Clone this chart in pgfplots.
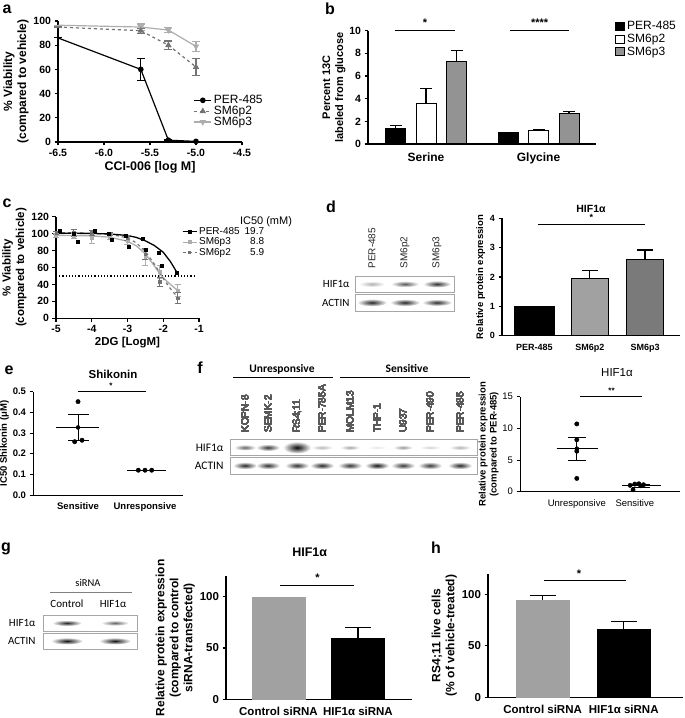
\documentclass[border=0pt]{standalone}
\usepackage{fontspec}
\setmainfont{Liberation Sans}
\newfontfamily\calfont{Carlito}
\usepackage{pgfplots}
\pgfplotsset{compat=1.18}
\definecolor{gdark}{gray}{0.45}
\definecolor{glight}{gray}{0.68}
\definecolor{barA}{gray}{0.63}
\definecolor{barB}{gray}{0.48}
\newcommand{\fs}[2]{\fontsize{#1}{#2}\selectfont}
\pgfplotsset{
  prism/.style={scale only axis, axis x line*=bottom, axis y line*=left,
    axis line style={line width=1.1pt}, tick style={line width=1.1pt, black},
    tick align=outside, major tick length=3.5pt,
    /pgf/number format/assume math mode=true,
    clip=false, anchor=south west},
  errs/.style={error bars/y dir=both, error bars/y explicit, error bars/error mark=|,
    error bars/error bar style={line width=1.1pt}, error bars/error mark options={mark size=4pt, line width=1.1pt}},
  errup/.style={error bars/y dir=plus, error bars/y explicit, error bars/error mark=|,
    error bars/error bar style={line width=1.1pt, draw=black}, error bars/error mark options={mark size=#1, line width=1.1pt, draw=black}},
  errup/.default=6pt,
}
\newcommand{\band}[5]{\shade[inner color=black!#5, outer color=white] (#1,#2) ellipse (#3 and #4);}
\begin{document}
\begin{tikzpicture}
\useasboundingbox (0,0) rectangle (685pt,718pt);

%%%%%%%%%%%%%% a
\begin{axis}[prism, at={(58pt,576pt)}, width=184pt, height=121pt,
  xmin=-6.5, xmax=-4.5, ymin=0, ymax=100,
  xtick={-6.5,-6,-5.5,-5,-4.5}, ytick={0,20,...,100},
  xticklabel style={/pgf/number format/.cd, fixed, fixed zerofill, precision=1},
  ticklabel style={font=\fs{10.5}{12}\bfseries},
  xlabel={CCI-006 [log M]}, xlabel style={font=\fs{12.5}{14}\bfseries, yshift=2pt},
  ylabel={\% Viability\\(compared to vehicle)}, ylabel style={font=\fs{12}{14}\bfseries, align=center, yshift=-2pt},
  legend style={at={(0.72,0.42)}, anchor=north west, draw=none, fill=none, font=\fs{12}{13}, row sep=-3pt},
  legend cell align=left]
\addlegendimage{black, line width=1.2pt, mark=*, mark size=2.2pt}
\addlegendentry{PER-485}
\addlegendimage{gdark, dashed, line width=1.2pt, mark=triangle*, mark size=2.5pt, mark options={solid}}
\addlegendentry{SM6p2}
\addlegendimage{glight, line width=1.2pt, mark=triangle*, mark size=2.5pt, mark options={rotate=180}}
\addlegendentry{SM6p3}
\addplot[glight, line width=1.2pt, mark=triangle*, mark size=2.5pt, mark options={rotate=180}, mark indices={2,3,4}, errs, forget plot]
  coordinates {(-6.5,96.5) +- (0,0) (-5.6,95) +- (0,2.5) (-5.3,92.5) +- (0,2) (-5.0,79) +- (0,4)};
\addplot[gdark, dashed, line width=1.2pt, mark=triangle*, mark size=2.5pt, mark options={solid}, mark indices={2,3,4}, errs, error bars/error bar style={solid, line width=1.1pt}, forget plot]
  coordinates {(-6.5,95) +- (0,0) (-5.6,92) +- (0,2) (-5.3,80) +- (0,3.5) (-5.0,62) +- (0,7)};
\addplot[black, line width=1.2pt, mark=*, mark size=2.2pt, mark indices={2,3,4}, errs, forget plot]
  coordinates {(-6.5,86) +- (0,0) (-5.6,60) +- (0,9) (-5.3,1.5) +- (0,0.5) (-5.0,0.5) +- (0,0)};
\end{axis}

%%%%%%%%%%%%%% b
\begin{axis}[prism, at={(368pt,574pt)}, width=228pt, height=113.3pt,
  ybar=10.5pt, bar width=20pt, xmin=-0.516, xmax=1.511, ymin=0, ymax=10,
  xtick={0,1}, xticklabels={Serine,Glycine}, xtick style={draw=none},
  ytick={0,2,...,10},
  ticklabel style={font=\fs{10.5}{12}\bfseries},
  xticklabel style={font=\fs{12}{13}\bfseries, yshift=-2pt},
  ylabel={Percent 13C\\labeled from glucose}, ylabel style={font=\fs{11}{13}\bfseries, align=center, yshift=-3pt},
  legend style={at={(1.07,1.12)}, anchor=north west, draw=none, fill=none, font=\fs{12}{13}, row sep=-1pt},
  legend cell align=left,
  legend image code/.code={\draw[#1, line width=1pt] (0pt,-4pt) rectangle (9pt,4pt);}]
\addplot[fill=black, draw=black, line width=1pt, errup] coordinates {(0,1.35) +- (0,0.25) (1,1.02) +- (0,0.03)};
\addlegendentry{PER-485}
\addplot[fill=white, draw=black, line width=1pt, errup] coordinates {(0,3.55) +- (0,1.35) (1,1.22) +- (0,0.08)};
\addlegendentry{SM6p2}
\addplot[fill=gray!85, draw=black, line width=1pt, errup] coordinates {(0,7.3) +- (0,0.92) (1,2.72) +- (0,0.12)};
\addlegendentry{SM6p3}
\draw[line width=1.1pt] (axis cs:-0.28,10.05) -- (axis cs:0.26,10.05);
\node[font=\fs{11}{11}\bfseries, anchor=south] at (axis cs:-0.01,10.05) {*};
\draw[line width=1.1pt] (axis cs:0.75,10.05) -- (axis cs:1.27,10.05);
\node[font=\fs{11}{11}\bfseries, anchor=south] at (axis cs:1.01,10.05) {****};
\end{axis}

%%%%%%%%%%%%%% c
\begin{axis}[prism, at={(56pt,399.7pt)}, width=143pt, height=101.6pt,
  xmin=-5, xmax=-1, ymin=0, ymax=120,
  xtick={-5,-4,-3,-2,-1}, ytick={0,20,...,120},
  ticklabel style={font=\fs{10.5}{12}\bfseries},
  xlabel={2DG [LogM]}, xlabel style={font=\fs{11.5}{13}\bfseries, yshift=2pt},
  ylabel={\% Viability\\(compared to vehicle)}, ylabel style={font=\fs{11.5}{13.5}\bfseries, align=center, yshift=-2pt},
  legend style={at={(0.88,0.915)}, anchor=north west, draw=none, fill=none, font=\fs{10}{11}, row sep=-2pt, inner sep=0pt},
  legend image code/.code={\draw[#1] plot coordinates {(0pt,0pt) (7pt,0pt) (14pt,0pt)};},
  legend cell align=left]
\addlegendimage{black, line width=1.1pt, mark=square*, mark size=1.4pt, mark indices={2}}
\addlegendentry{\makebox[45pt][l]{PER-485}\makebox[20pt][r]{19.7}}
\addlegendimage{glight, line width=1.1pt, mark=square*, mark size=1.4pt, mark indices={2}}
\addlegendentry{\makebox[45pt][l]{SM6p3}\makebox[20pt][r]{8.8}}
\addlegendimage{gdark, dashed, line width=1.1pt, mark=square*, mark size=1.2pt, mark options={solid}, mark indices={2}}
\addlegendentry{\makebox[45pt][l]{SM6p2}\makebox[20pt][r]{5.9}}
\addplot[black, dotted, line width=1.2pt, forget plot] coordinates {(-5,50) (-1.1,50)};
% fitted curves
\addplot[glight, line width=1.3pt, forget plot] coordinates {(-5,98) (-4.5,97.8) (-4,97.3) (-3.5,95.8) (-3,91) (-2.75,85.5) (-2.5,76) (-2.25,62) (-2.1,53) (-2,48) (-1.8,40) (-1.6,33)};
\addplot[gdark, dashed, line width=1.2pt, forget plot] coordinates {(-5,101) (-4.5,100.9) (-4,100.5) (-3.5,99.3) (-3,95) (-2.75,89) (-2.5,79) (-2.25,64) (-2,47) (-1.8,35) (-1.6,25)};
\addplot[black, line width=1.3pt, forget plot] coordinates {(-5,100.5) (-4.5,100.4) (-4,100.2) (-3.5,99.6) (-3,97.8) (-2.75,95.5) (-2.5,91.5) (-2.25,86) (-2,78) (-1.8,67) (-1.6,53)};
% data points
\addplot[only marks, glight, mark=square*, mark size=1.3pt, forget plot, error bars/.cd, y dir=both, y explicit, error mark=|, error bar style={line width=0.8pt}, error mark options={mark size=3pt, line width=0.8pt}]
  coordinates {(-5,98) +- (0,2) (-4.5,97) +- (0,3) (-4,95) +- (0,6) (-3.5,96) +- (0,3) (-3,91) +- (0,4) (-2.5,72) +- (0,10) (-2.1,55) +- (0,8) (-1.6,33) +- (0,7)};
\addplot[only marks, gdark, mark=square*, mark size=1.2pt, forget plot, error bars/.cd, y dir=both, y explicit, error mark=|, error bar style={line width=0.8pt}, error mark options={mark size=3pt, line width=0.8pt}]
  coordinates {(-5,101) +- (0,2) (-4.5,101) +- (0,4) (-4,101) +- (0,3) (-3.5,100) +- (0,2) (-3,95) +- (0,3) (-2.5,76) +- (0,6) (-2.1,43) +- (0,5) (-1.6,24) +- (0,6)};
\addplot[only marks, black, mark=square*, mark size=1.5pt, forget plot]
  coordinates {(-4.9,104) (-4.5,100) (-4.4,91) (-3.93,103) (-3.52,100) (-3.44,92.5) (-3.05,97) (-2.98,84.6) (-2.57,93.7) (-2.5,81.5) (-2.12,78) (-2.03,62) (-1.61,54)};
\end{axis}

%%%%%%%%%%%%%% d chart
\begin{axis}[prism, at={(502pt,382.3pt)}, width=178pt, height=117.4pt,
  xmin=-0.588, xmax=2.633, ymin=0, ymax=4,
  xtick={0,1,2}, xticklabels={PER-485,SM6p2,SM6p3}, xtick style={draw=none},
  ytick={0,1,...,4},
  ticklabel style={font=\fs{9}{10}\bfseries},
  xticklabel style={yshift=-1pt},
  ylabel={Relative protein expression}, ylabel style={font=\fs{9.5}{11}\bfseries, yshift=-2pt},
  title={HIF1α}, title style={font=\fs{10.5}{11}\bfseries, yshift=-4pt}]
\addplot[ybar, bar width=40pt, bar shift=0pt, fill=black, draw=black] coordinates {(0,1)};
\addplot[ybar, bar width=37pt, bar shift=0pt, fill=barA, draw=black, errup=8pt] coordinates {(1,1.96) +- (0,0.27)};
\addplot[ybar, bar width=37pt, bar shift=0pt, fill=barB, draw=black, errup=8pt] coordinates {(2,2.62) +- (0,0.3)};
\draw[line width=1.1pt] (axis cs:0.06,3.8) -- (axis cs:2.0,3.8);
\node[font=\fs{9}{9}\bfseries, anchor=south] at (axis cs:1.03,3.8) {*};
\end{axis}

%%%%%%%%%%%%%% e
\begin{axis}[prism, at={(33pt,223pt)}, width=150pt, height=103.3pt,
  xmin=-0.672, xmax=1.567, ymin=0, ymax=0.5,
  xtick={0,1}, xticklabels={Sensitive,Unresponsive}, xtick style={draw=none},
  ytick={0,0.1,...,0.5},
  yticklabel style={/pgf/number format/.cd, fixed, fixed zerofill, precision=1},
  ticklabel style={font=\fs{9.5}{10}\bfseries},
  xticklabel style={yshift=-1pt},
  ylabel={IC50 Shikonin (μM)}, ylabel style={font=\fs{9.5}{11}\bfseries, yshift=-3pt},
  axis line style={line width=0.9pt}, tick style={line width=0.9pt}]
\addplot[black, line width=1pt] coordinates {(-0.33,0.327) (0.32,0.327)};
\addplot[black, line width=1pt] coordinates {(0.73,0.12) (1.32,0.12)};
\addplot[only marks, mark=none, error bars/.cd, y dir=both, y explicit, error mark=|, error bar style={line width=1pt, draw=black}, error mark options={mark size=10.5pt, line width=1pt, draw=black}]
  coordinates {(0,0.327) +- (0,0.063)};
\addplot[only marks, black, mark=*, mark size=2.2pt]
  coordinates {(0,0.452) (-0.05,0.258) (0.06,0.265) (0.9,0.12) (1.0,0.12) (1.1,0.12)};
\draw[line width=1pt] (axis cs:0,0.5) -- (axis cs:1.01,0.5);
\node[font=\fs{8}{8}\bfseries, anchor=south] at (axis cs:0.49,0.5) {*};
\end{axis}

%%%%%%%%%%%%%% f chart
\begin{axis}[prism, at={(520pt,226.3pt)}, width=160pt, height=95pt,
  xmin=-0.98, xmax=1.78, ymin=0, ymax=15,
  xtick={0,1}, xticklabels={Unresponsive,Sensitive}, xtick style={draw=none},
  ytick={0,5,10,15},
  ticklabel style={font=\fs{9.5}{10}},
  xticklabel style={yshift=-1pt},
  ylabel={Relative protein expression\\(compared to PER-485)}, ylabel style={font=\fs{9.5}{11}\bfseries, align=center, yshift=-3pt},
  axis line style={line width=0.9pt}, tick style={line width=0.9pt}]
\addplot[black, line width=1pt] coordinates {(-0.35,6.8) (0.36,6.8)};
\addplot[black, line width=1pt] coordinates {(0.78,0.9) (1.45,0.9)};
\addplot[only marks, mark=none, error bars/.cd, y dir=both, y explicit, error mark=|, error bar style={line width=1pt, draw=black}, error mark options={mark size=9pt, line width=1pt, draw=black}]
  coordinates {(0,6.8) +- (0,1.8) (1.1,0.9) +- (0,0.2)};
\addplot[only marks, black, mark=*, mark size=2.2pt]
  coordinates {(0,10.7) (0,8.2) (0,6.4) (0,2.1) (0.92,1.0) (1.0,1.2) (1.07,1.25) (1.15,1.1) (0.97,0.3)};
\draw[line width=1pt] (axis cs:0.05,15) -- (axis cs:1.12,15);
\node[font=\fs{8}{8}\bfseries, anchor=south] at (axis cs:0.6,15) {**};
\end{axis}

%%%%%%%%%%%%%% g chart
\begin{axis}[prism, at={(226pt,18.7pt)}, width=186pt, height=123.1pt,
  xmin=-0.66, xmax=1.68, ymin=0, ymax=120,
  xtick={0,1}, xticklabels={Control siRNA,HIF1α siRNA}, xtick style={draw=none},
  ytick={0,50,100},
  ticklabel style={font=\fs{11.5}{12}\bfseries},
  xticklabel style={yshift=-1pt},
  ylabel={Relative protein expression\\(compared to control\\siRNA-transfected)}, ylabel style={font=\fs{12}{14}\bfseries, align=center, yshift=-2pt},
  title={HIF1α}, title style={font=\fs{12.5}{13}\bfseries, at={(0.45,1)}, yshift=10pt}]
\addplot[ybar, bar width=53pt, bar shift=0pt, fill=barA, draw=barA] coordinates {(0,100)};
\addplot[ybar, bar width=53pt, bar shift=0pt, fill=black, draw=black, errup=13pt] coordinates {(1,59.4) +- (0,10.7)};
\draw[line width=1.1pt] (axis cs:0.02,111) -- (axis cs:0.95,111);
\node[font=\fs{11}{11}\bfseries, anchor=south] at (axis cs:0.49,111) {*};
\end{axis}

%%%%%%%%%%%%%% h chart
\begin{axis}[prism, at={(488pt,20.7pt)}, width=195pt, height=123.6pt,
  xmin=-0.673, xmax=1.73, ymin=0, ymax=120,
  xtick={0,1}, xticklabels={Control siRNA,HIF1α siRNA}, xtick style={draw=none},
  ytick={0,50,100},
  ticklabel style={font=\fs{11.5}{12}\bfseries},
  xticklabel style={yshift=-1pt},
  ylabel={RS4;11 live cells\\(\% of vehicle-treated)}, ylabel style={font=\fs{12}{14}\bfseries, align=center, yshift=-2pt}]
\addplot[ybar, bar width=53pt, bar shift=0pt, fill=barA, draw=barA, errup=13pt] coordinates {(0,94) +- (0,4.7)};
\addplot[ybar, bar width=53pt, bar shift=0pt, fill=black, draw=black, errup=13pt] coordinates {(1,66.5) +- (0,7.5)};
\draw[line width=1.1pt] (axis cs:0.02,113) -- (axis cs:1.03,113);
\node[font=\fs{11}{11}\bfseries, anchor=south] at (axis cs:0.45,113) {*};
\end{axis}

%%%%%%%%%%%%%% annotations in pixel coordinates (y downward)
\begin{scope}[x=1pt, y=-1pt, yshift=718pt]
\foreach \l/\x/\y in {a/7/9,b/330/9,c/7/203,d/331/207,e/9/370,f/200/368,g/6/549,h/436/548}
  \node[font=\normalfont\fs{16}{16}\bfseries] at (\x,\y) {\l};
\node[font=\normalfont\fs{11}{12}] at (266,222) {IC50 (mM)};
% d blot
\draw[gray!70, line width=0.8pt] (355,276) rectangle (454,292);
\draw[gray!70, line width=0.8pt] (355,294) rectangle (454,311);
\band{372}{284}{13}{3}{30}
\band{405}{284}{14}{3.2}{65}
\band{437}{284}{14}{3.5}{80}
\band{372}{302.5}{15}{3.8}{85}
\band{405}{302.5}{15}{3.6}{85}
\band{437}{302.5}{15}{3.4}{82}
\foreach \t/\x in {PER-485/372,SM6p2/405,SM6p3/437}
  \node[rotate=90, anchor=west, font=\normalfont\fs{10}{10}, text=black!85] at (\x,272) {\t};
\node[anchor=east, font=\normalfont\calfont\fs{11}{11}] at (353,284) {HIF1α};
\node[anchor=east, font=\normalfont\calfont\fs{11}{11}] at (353,302.5) {ACTIN};
% e title
\node[font=\normalfont\fs{11.5}{12}\bfseries] at (113,374) {Shikonin};
% f blot
\node[font=\normalfont\calfont\bfseries\fs{11.5}{12}] at (282,369) {Unresponsive};
\draw[line width=1pt] (233,378) -- (333,378);
\node[font=\normalfont\calfont\bfseries\fs{11.5}{12}] at (407,369) {Sensitive};
\draw[line width=1pt] (340,378) -- (470,378);
\draw[gray!70, line width=0.8pt] (230,439.5) rectangle (477,455);
\draw[gray!70, line width=0.8pt] (230,457) rectangle (477,474);
\foreach \x/\c/\w/\h in {245/60/11/3,268/78/12/3.5,297/97/14/6,322/28/11/2.5,350/35/10/2.5,377/10/10/2,403/40/10/2.5,430/18/11/2,460/30/11/2.5}
  \band{\x}{447.5}{\w}{\h}{\c}
\foreach \x/\c in {245/85,268/82,297/82,322/85,350/80,377/92,403/78,430/78,460/85}
  \band{\x}{465.5}{12}{3.6}{\c}
\foreach \t/\x in {KOPN-8/245,SEMK-2/268,RS4;11/297,PER-785A/322,MOLM13/350,THP-1/377,U937/403,PER-490/430,PER-485/460}
  \node[rotate=90, anchor=west, font=\normalfont\mdseries\fs{10}{10}, text=black!65] at (\x,436) {\t};
\node[anchor=east, font=\normalfont\calfont\fs{11.5}{12}] at (227,447.5) {HIF1α};
\node[anchor=east, font=\normalfont\calfont\fs{11.5}{12}] at (227,465.5) {ACTIN};
\node[font=\normalfont\fs{11.5}{12}] at (617,373) {HIF1α};
% g blot
\node[font=\normalfont\calfont\fs{10.5}{11}] at (88,583) {siRNA};
\draw[gray, line width=0.6pt] (50,592) -- (132,592);
\node[font=\normalfont\calfont\fs{11}{11}] at (67,604) {Control};
\node[font=\normalfont\calfont\fs{11}{11}] at (113,604) {HIF1α};
\draw[gray!70, line width=0.8pt] (43,615) rectangle (137,631.5);
\draw[gray!70, line width=0.8pt] (43,633) rectangle (137,649);
\band{67}{623}{15}{3}{85}
\band{115}{623}{14}{2.7}{60}
\band{67}{641}{16}{3.5}{92}
\band{115}{641}{16}{3.5}{92}
\node[anchor=east, font=\normalfont\calfont\fs{11}{11}] at (39,623) {HIF1α};
\node[anchor=east, font=\normalfont\calfont\fs{11}{11}] at (39,641) {ACTIN};
\end{scope}
\end{tikzpicture}
\end{document}
